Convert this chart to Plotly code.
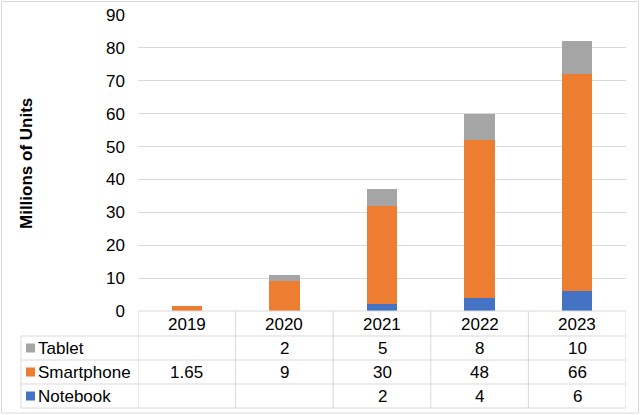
import plotly.graph_objects as go

categories = ["2019", "2020", "2021", "2022", "2023"]
notebook = [None, None, 2, 4, 6]
smartphone = [1.65, 9, 30, 48, 66]
tablet = [None, 2, 5, 8, 10]

series = [("Notebook", notebook, "#4472c4"),
          ("Smartphone", smartphone, "#ed7d31"),
          ("Tablet", tablet, "#a5a5a5")]

W, H = 640, 415
FONT = "Liberation Sans, Arial, sans-serif"
GRID = "#d9d9d9"


def px(x):
    return x / W


def py(y):
    return 1 - y / H


fig = go.Figure()
for name, vals, col in series:
    fig.add_trace(go.Bar(x=list(range(len(categories))), y=vals, name=name,
                         marker_color=col, marker_line_width=0))

fig.update_layout(
    width=W, height=H, margin=dict(l=0, r=0, t=0, b=0, pad=0, autoexpand=False),
    barmode="stack", bargap=0.69, showlegend=False,
    plot_bgcolor="white", paper_bgcolor="white",
    font=dict(family=FONT, size=17, color="#000000"),
    xaxis=dict(domain=[px(138), px(626)], range=[-0.5, len(categories) - 0.5],
               showticklabels=False, showgrid=False, zeroline=False, showline=False,
               automargin=False),
    yaxis=dict(domain=[py(311), py(15)], range=[0, 90], dtick=10,
               gridcolor=GRID, gridwidth=1, zeroline=False, showline=False,
               ticks="", ticklabelstandoff=12, automargin=False,
               tickfont=dict(family=FONT, size=17, color="#000000")),
)

shapes = []
ann = []
# outer border
shapes.append(dict(type="rect", xref="paper", yref="paper", x0=px(1.5), x1=px(638.5),
                   y0=py(413), y1=py(1.5), line=dict(color=GRID, width=1)))

row_lines = [311, 336, 360, 384, 408]
for i, yl in enumerate(row_lines):
    if i == 0:
        shapes.append(dict(type="line", xref="x", yref="paper", x0=-0.5,
                           x1=len(categories) - 0.5,
                           y0=py(yl), y1=py(yl), line=dict(color=GRID, width=1)))
    else:
        shapes.append(dict(type="line", xref="paper", yref="paper", x0=px(21), x1=px(626),
                           y0=py(yl), y1=py(yl), line=dict(color=GRID, width=1)))
shapes.append(dict(type="line", xref="paper", yref="paper", x0=px(21), x1=px(21),
                   y0=py(336), y1=py(408), line=dict(color=GRID, width=1)))
for k in range(len(categories) + 1):
    shapes.append(dict(type="line", xref="x", yref="paper", x0=k - 0.5, x1=k - 0.5,
                       y0=py(311), y1=py(408), line=dict(color=GRID, width=1)))

# header row
for i, c in enumerate(categories):
    ann.append(dict(x=i, y=py(324), xref="x", yref="paper", text=c, showarrow=False,
                    xanchor="center", yanchor="middle", font=dict(size=17)))

# data rows (top to bottom: Tablet, Smartphone, Notebook)
row_centers = [348, 372, 396]
for (name, vals, col), yc in zip(series[::-1], row_centers):
    shapes.append(dict(type="rect", xref="paper", yref="paper", x0=px(26), x1=px(35),
                       y0=py(yc + 4.5), y1=py(yc - 4.5), fillcolor=col, line=dict(width=0)))
    ann.append(dict(x=px(36), y=py(yc), xref="paper", yref="paper", text=name,
                    showarrow=False, xanchor="left", yanchor="middle", font=dict(size=17)))
    for i, v in enumerate(vals):
        if v is None:
            continue
        ann.append(dict(x=i, y=py(yc), xref="x", yref="paper", text=f"{v:g}",
                        showarrow=False, xanchor="center", yanchor="middle",
                        font=dict(size=17)))

# y-axis title
ann.append(dict(x=px(26), y=py(164), xref="paper", yref="paper", text="<b>Millions of Units</b>",
                textangle=-90, showarrow=False, xanchor="center", yanchor="middle",
                font=dict(size=17)))

fig.update_layout(shapes=shapes, annotations=ann)
fig.write_html("out.html", config={"displayModeBar": False},
               post_script=("document.documentElement.style.margin='0';"
                            "document.body.style.margin='0';document.body.style.padding='0';"
                            "document.body.style.overflow='hidden';"))
